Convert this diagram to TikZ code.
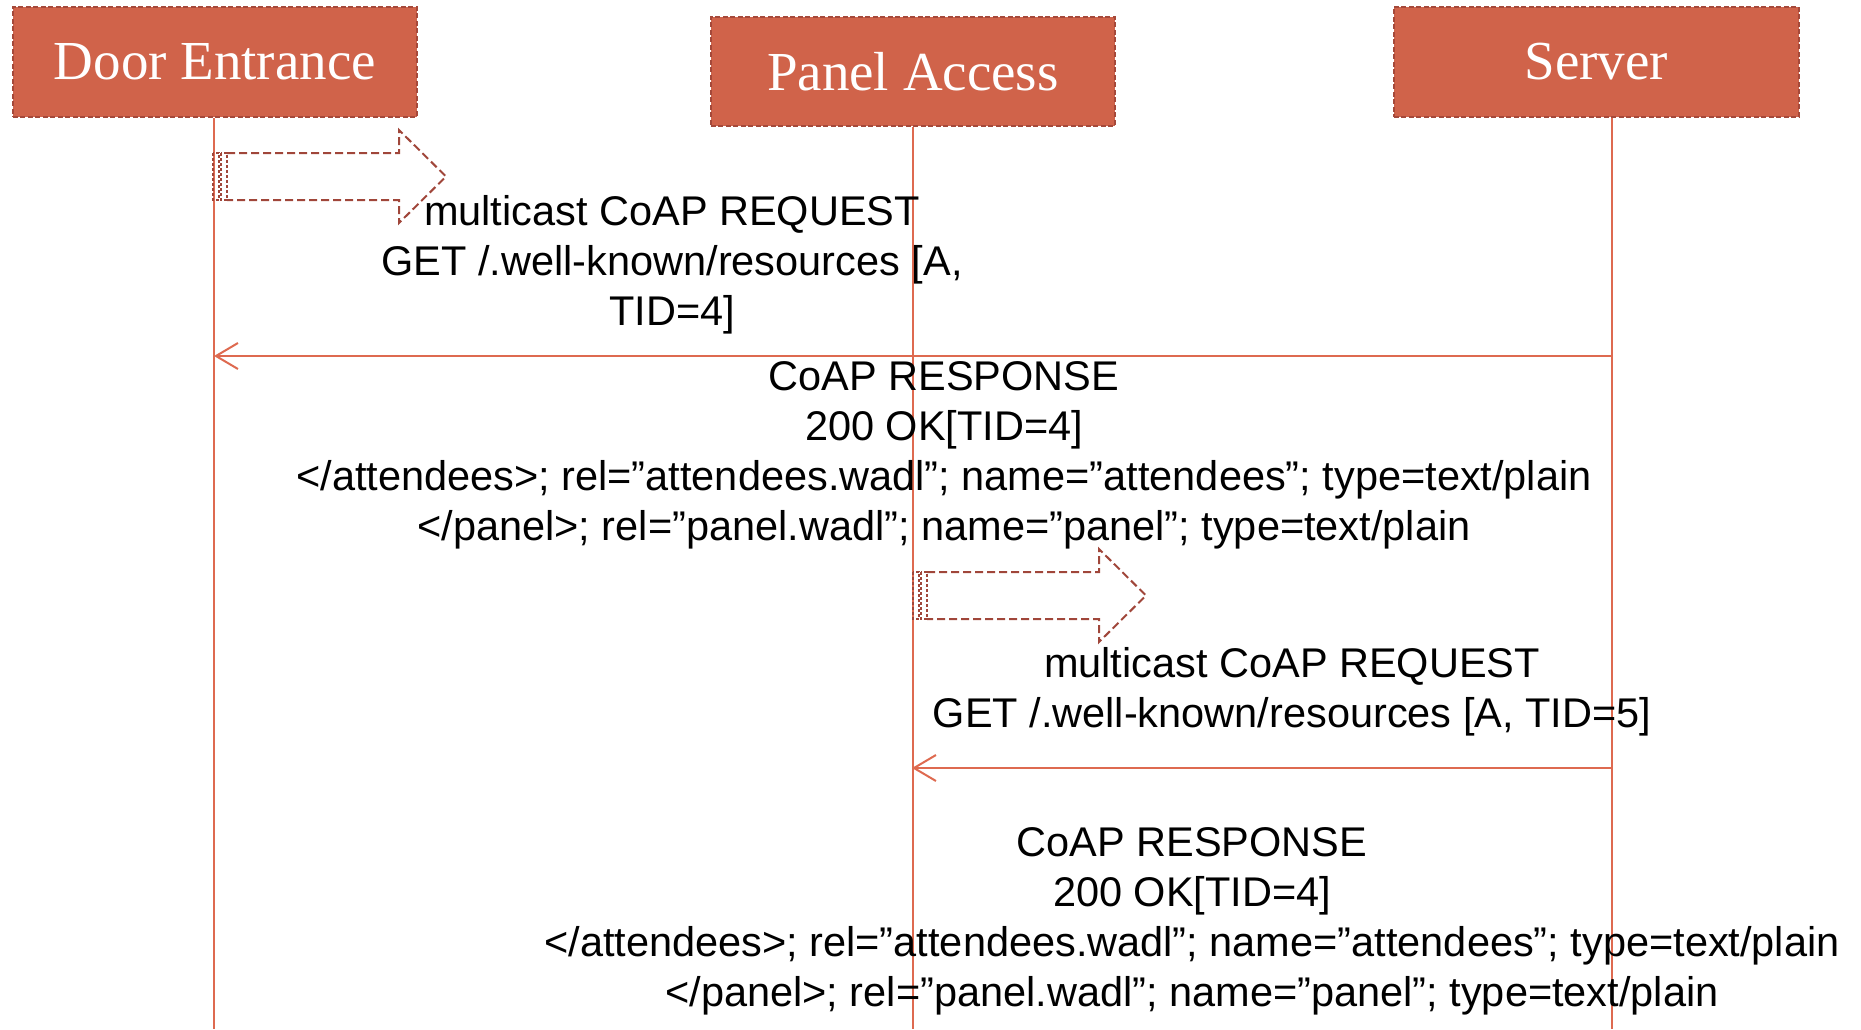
\documentclass[tikz,border=0pt]{standalone}
\usepackage{fontspec}
\setmainfont{Liberation Sans}
\newfontfamily\headfont{Liberation Serif}
\definecolor{headfill}{HTML}{D0634A}
\definecolor{headline}{HTML}{A5493A}
\definecolor{lifeline}{HTML}{DE6A50}
\definecolor{blockline}{HTML}{A0463A}
\tikzset{
  actor/.style={draw=headline, dashed, dash pattern=on 5pt off 2.5pt, line width=1.8pt,
    fill=headfill, text=white, font=\headfont\fontsize{55}{60}\selectfont,
    minimum width=404pt, minimum height=110pt, inner sep=0pt, anchor=north west},
  lifeln/.style={draw=lifeline, line width=2pt},
  reply/.style={draw=lifeline, line width=2pt, -{Straight Barb[length=22pt,width=26pt,line width=2pt]}},
  blockarr/.style={draw=blockline, line width=2pt, dash pattern=on 8pt off 4pt},
  msg/.style={align=center, font=\fontsize{41.5}{50}\selectfont, inner sep=0pt, text=black},
}
\usetikzlibrary{arrows.meta}
\newcommand{\multiarrow}[1]{%
  % striped block arrow pointing right, starting at coordinate #1
  \begin{scope}[shift={(#1)}]
    \draw[blockarr, line width=1.6pt, dash pattern=on 3pt off 2pt] (0,0) rectangle (6,47);
    \draw[blockarr, line width=1.6pt, dash pattern=on 3pt off 2pt] (8,0) rectangle (14,47);
    \draw[blockarr] (14,0) -- (186,0) -- (186,-23) -- (233,23.5) -- (186,70) -- (186,47) -- (14,47);
  \end{scope}}
\begin{document}
\begin{tikzpicture}[x=1pt,y=-1pt]
\useasboundingbox (0,0) rectangle (1861,1029);

% actors
\node[actor] (door) at (12,6) {Door Entrance};
\node[actor, minimum height=109pt] (panel) at (710,16) {Panel Access};
\node[actor, minimum width=405pt] (server) at (1393,6) {Server};

% lifelines
\coordinate (doorEnd) at (214,1029);
\coordinate (panelEnd) at (912,1029);
\coordinate (serverEnd) at (1612,1029);
\draw[lifeln] (door.south) ++(-0.5,0) coordinate (doorTop) (doorTop) -- (doorTop |- doorEnd);
\draw[lifeln] (panel.south) -- (panel.south |- panelEnd);
\draw[lifeln] (server.south) ++(16,0) coordinate (serverTop) (serverTop) -- (serverTop |- serverEnd);

% first multicast request from the door
\coordinate (req1) at (213,153);
\multiarrow{req1}
\node[msg] (m1) at (672,265) {multicast CoAP REQUEST\\GET /.well-known/resources [A,\\TID=4]};

% response to the door
\coordinate (r1s) at (1612,356);
\coordinate (r1d) at (214,356);
\draw[reply] (r1s) -- (r1d);
\node[msg] (m2) at (944,455) {CoAP RESPONSE\\200 OK[TID=4]\\</attendees>; rel=”attendees.wadl”; name=”attendees”; type=text/plain\\</panel>; rel=”panel.wadl”; name=”panel”; type=text/plain};

% second multicast request from the panel
\coordinate (req2) at (913,572);
\multiarrow{req2}
\node[msg] (m3) at (1292,692) {multicast CoAP REQUEST\\GET /.well-known/resources [A, TID=5]};

% response to the panel
\coordinate (r2s) at (1612,768);
\coordinate (r2d) at (912,768);
\draw[reply] (r2s) -- (r2d);
\node[msg] (m4) at (1192,921) {CoAP RESPONSE\\200 OK[TID=4]\\</attendees>; rel=”attendees.wadl”; name=”attendees”; type=text/plain\\</panel>; rel=”panel.wadl”; name=”panel”; type=text/plain};
\end{tikzpicture}
\end{document}
